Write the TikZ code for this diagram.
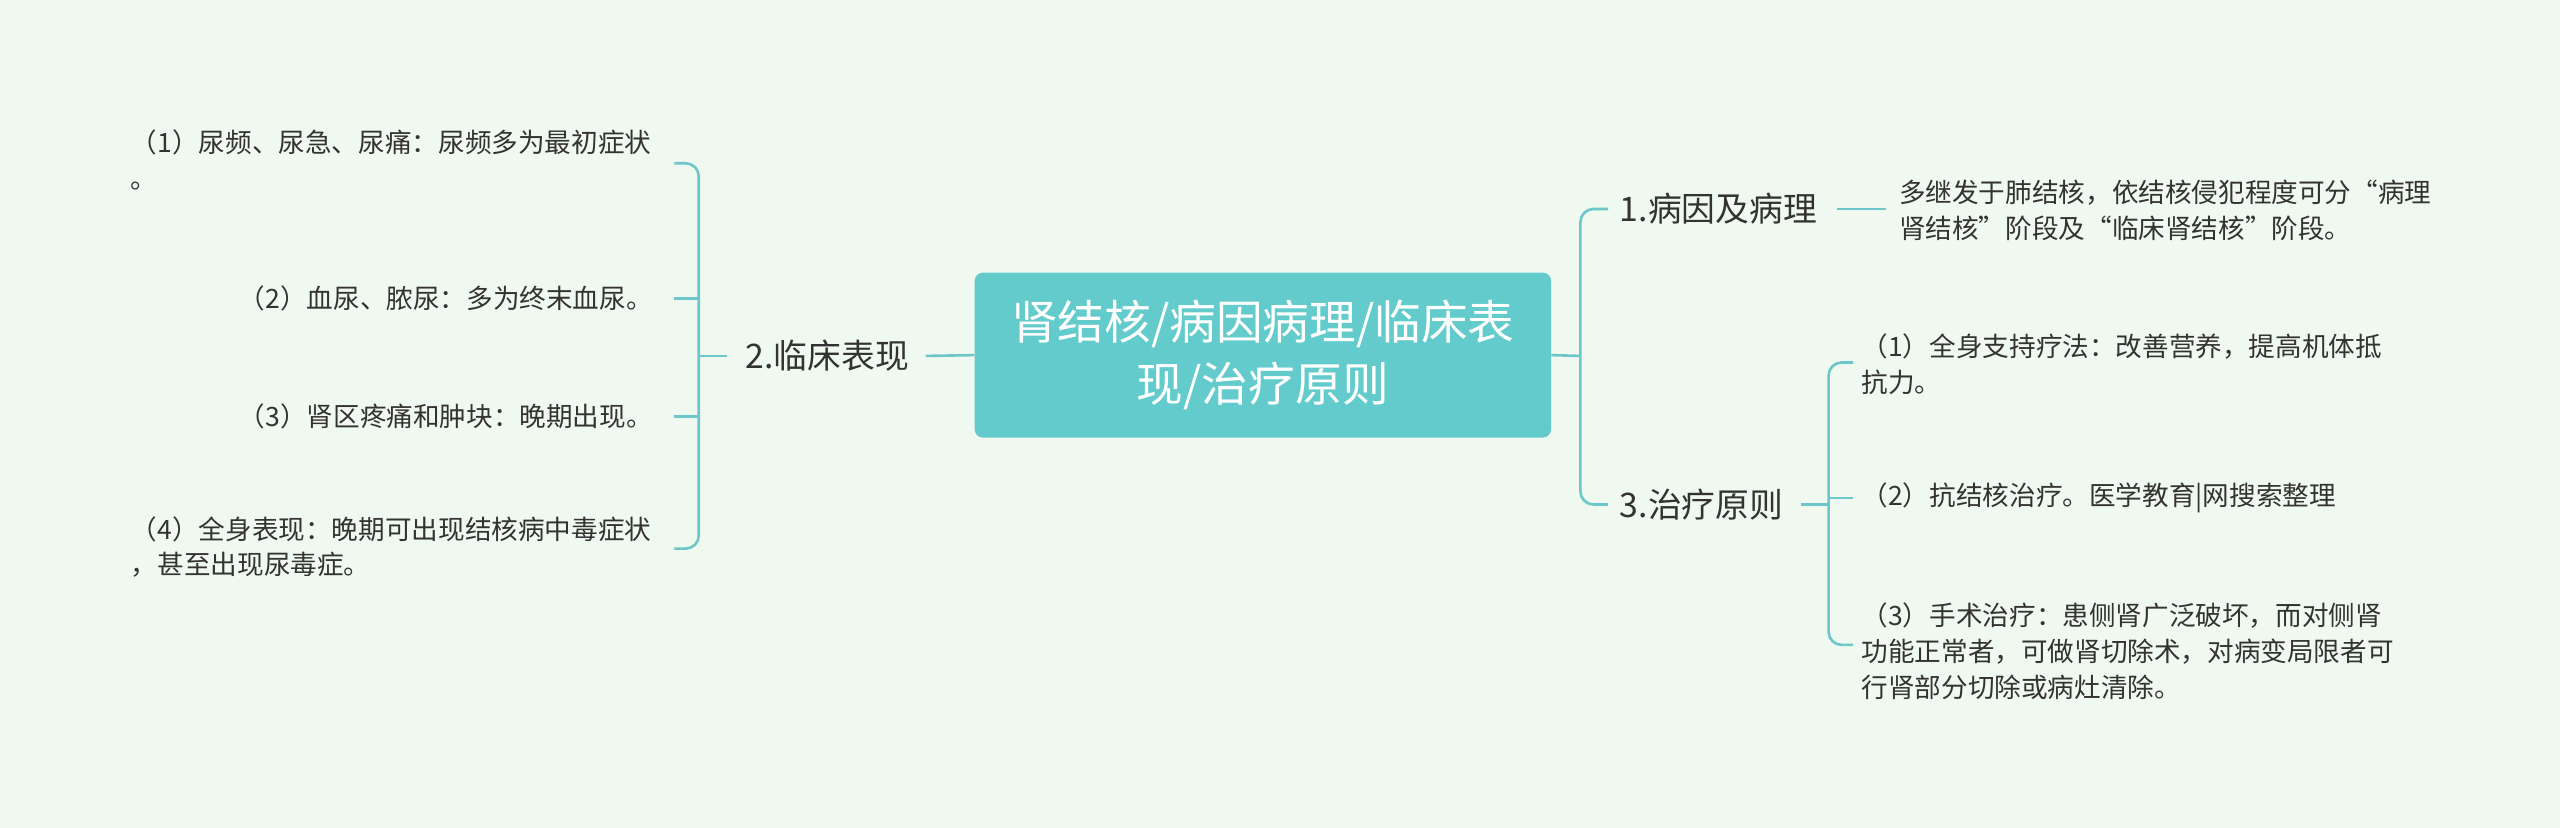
\documentclass[tikz,border=0pt]{standalone}
\usepackage{fontspec}
\newfontfamily\cjk{Noto Sans CJK SC}
\definecolor{bg}{HTML}{F0F9EF}
\definecolor{ln}{HTML}{6CC6CA}
\definecolor{mainc}{HTML}{63CBCC}
\definecolor{tx}{HTML}{333333}
\begin{document}
\begin{tikzpicture}[x=1pt,y=-1pt,
 br/.style={draw=ln,line width=1.6pt,rounded corners=8pt},
 leaf/.style={inner sep=0pt,text=tx,font=\cjk\fontsize{16.3}{22}\selectfont,align=left},
 brn/.style={inner sep=0pt,text=tx,font=\cjk\fontsize{20.7}{24}\selectfont}]
\fill[bg] (0,0) rectangle (1568,507);
\useasboundingbox (0,0) rectangle (1568,507);
\node[fill=mainc,rounded corners=5pt,minimum width=353pt,minimum height=101pt,text=white,align=center,font=\cjk\fontsize{28.6}{38}\selectfont] (m) at (773.5,217.5) {肾结核/病因病理/临床表\\现/治疗原则};
% right
\node[brn,anchor=west] (b1) at (992,128) {1.病因及病理};
\node[brn,anchor=west] (b3) at (992,309) {3.治疗原则};
\draw[br] (m.east) -- (968,218) (985,128) -- (968,128) -- (968,309) -- (985,309);
\node[leaf,anchor=west] (r1) at (1163,129) {多继发于肺结核，依结核侵犯程度可分“病理\\肾结核”阶段及“临床肾结核”阶段。};
\draw[br] (1125,128) -- (1155,128);
\node[leaf,anchor=west] (r31) at (1140,223) {（1）全身支持疗法：改善营养，提高机体抵\\抗力。};
\node[leaf,anchor=west] (r32) at (1140,305) {（2）抗结核治疗。医学教育|网搜索整理};
\node[leaf,anchor=west] (r33) at (1140,399) {（3）手术治疗：患侧肾广泛破坏，而对侧肾\\功能正常者，可做肾切除术，对病变局限者可\\行肾部分切除或病灶清除。};
\draw[br] (1103,309) -- (1120,309);
\draw[br] (1135,222) -- (1120,222) -- (1120,395) -- (1135,395);
\draw[br] (1120,305) -- (1135,305);
% left
\node[brn,anchor=east] (b2) at (557,218) {2.临床表现};
\draw[br] (m.west) -- (567,218);
\draw[br] (445,218) -- (428,218);
\draw[br] (413,100) -- (428,100) -- (428,336) -- (413,336);
\draw[br] (413,183) -- (428,183) (413,255) -- (428,255);
\node[leaf,anchor=north west,align=left] (l1) at (80,79) {\hspace*{0pt}（1）尿频、尿急、尿痛：尿频多为最初症状\\。};
\node[leaf,anchor=east] (l2) at (400,183) {（2）血尿、脓尿：多为终末血尿。};
\node[leaf,anchor=east] (l3) at (400,255) {（3）肾区疼痛和肿块：晚期出现。};
\node[leaf,anchor=north west] (l4) at (80,316) {\hspace*{0pt}（4）全身表现：晚期可出现结核病中毒症状\\，甚至出现尿毒症。};
\end{tikzpicture}
\end{document}
